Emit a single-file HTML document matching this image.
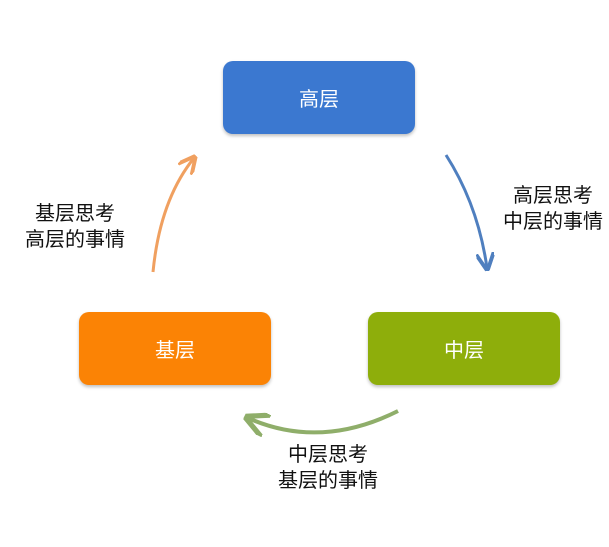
<!DOCTYPE html>
<html><head><meta charset="utf-8"><style>
body{margin:0;background:#fff;width:609px;height:547px;overflow:hidden;position:relative;font-family:"Liberation Sans","Noto Sans CJK SC",sans-serif}
.b{position:absolute;width:192px;height:73px;border-radius:10px;color:#fff;font-size:20px;display:flex;align-items:center;justify-content:center;box-shadow:0 2px 3px rgba(0,0,0,.25)}
.t{position:absolute;font-size:20px;color:#111;text-align:center;line-height:26px;width:160px}
</style></head><body>
<div class="b" style="left:223px;top:61px;background:#3b78d0">高层</div>
<div class="b" style="left:79px;top:312px;background:#fb8305">基层</div>
<div class="b" style="left:368px;top:312px;background:#8eae0b">中层</div>
<svg width="609" height="547" style="position:absolute;left:0;top:0">
<defs>
<marker id="a1" markerWidth="6" markerHeight="6" refX="5" refY="3" orient="auto" markerUnits="strokeWidth"><path d="M0,0 L6,3 L0,6" fill="none" stroke="#4f7fbf" stroke-width="1.3"/></marker>
<marker id="a2" markerWidth="6" markerHeight="6" refX="5" refY="3" orient="auto" markerUnits="strokeWidth"><path d="M0,0 L6,3 L0,6" fill="none" stroke="#f0a060" stroke-width="1.3"/></marker>
<marker id="a3" markerWidth="6" markerHeight="6" refX="5" refY="3" orient="auto" markerUnits="strokeWidth"><path d="M0,0 L6,3 L0,6" fill="none" stroke="#8fae6a" stroke-width="1.3"/></marker>
</defs>
<path d="M446,155 Q478,205 487,268" fill="none" stroke="#4f7fbf" stroke-width="3" marker-end="url(#a1)"/>
<path d="M153,272 Q160,200 194,158" fill="none" stroke="#f0a060" stroke-width="3" marker-end="url(#a2)"/>
<path d="M398,411 Q320,450 248,418" fill="none" stroke="#8fae6a" stroke-width="4" marker-end="url(#a3)"/>
</svg>
<div class="t" style="left:473px;top:183px">高层思考<br>中层的事情</div>
<div class="t" style="left:-5px;top:201px">基层思考<br>高层的事情</div>
<div class="t" style="left:248px;top:442px">中层思考<br>基层的事情</div>
</body></html>
